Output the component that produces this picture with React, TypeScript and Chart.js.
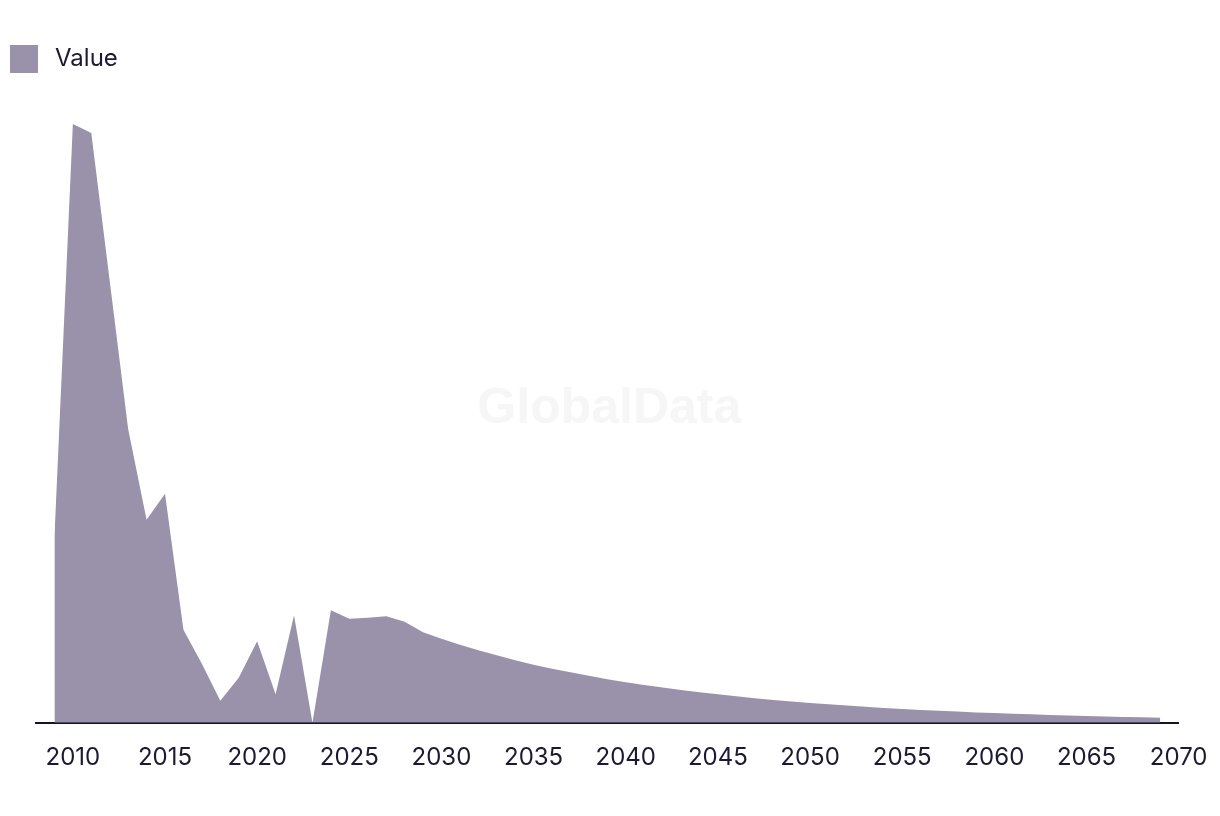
import { useEffect, useRef } from 'react';
import { Chart, registerables } from 'chart.js';

Chart.register(...registerables);

const YEARS = [
  2009, 2010, 2011, 2012, 2013, 2014, 2015, 2016, 2017, 2018,
  2019, 2020, 2021, 2022, 2023, 2024, 2025, 2026, 2027, 2028,
  2029, 2030, 2031, 2032, 2033, 2034, 2035, 2036, 2037, 2038,
  2039, 2040, 2041, 2042, 2043, 2044, 2045, 2046, 2047, 2048,
  2049, 2050, 2051, 2052, 2053, 2054, 2055, 2056, 2057, 2058,
  2059, 2060, 2061, 2062, 2063, 2064, 2065, 2066, 2067, 2068,
  2069,
];

const VALUES = [
  185.5, 598.5, 589.5, 441.5, 293.5, 203, 229, 93, 59, 22,
  45, 81.5, 28.5, 107.5, 0, 112.5, 104, 105, 106.5, 101,
  90.5, 84, 78, 72.5, 67.5, 62.5, 58, 54, 50.5, 47,
  43.5, 40.5, 37.8, 35.2, 32.8, 30.5, 28.4, 26.4, 24.5, 22.8,
  21.2, 19.7, 18.4, 17.1, 15.9, 14.8, 13.8, 12.8, 11.9, 11.1,
  10.3, 9.6, 9, 8.4, 7.8, 7.3, 6.8, 6.3, 5.8, 5.4,
  5,
];

const TICK_YEARS = [2010, 2015, 2020, 2025, 2030, 2035, 2040, 2045, 2050, 2055, 2060, 2065, 2070];

const SERIES_LABEL = 'Value';
const WATERMARK = 'GlobalData';
const Y_MAX = 641.5;

const TEXT_COLOR = '#1c1a33';
const FILL_COLOR = '#9a91aa';

const watermarkPlugin = {
  id: 'watermark',
  beforeDatasetsDraw(chart: any) {
    const { ctx, chartArea } = chart;
    ctx.save();
    ctx.font = 'bold 50px "Liberation Sans", Arial, sans-serif';
    ctx.fillStyle = '#f6f6f6';
    ctx.textAlign = 'center';
    ctx.textBaseline = 'middle';
    ctx.fillText(WATERMARK, (chartArea.left + chartArea.right) / 2 + 2, 409);
    ctx.restore();
  },
};

export default function App() {
  const canvasRef = useRef<HTMLCanvasElement | null>(null);

  useEffect(() => {
    if (!canvasRef.current) return;

    // legend swatch: 28x28 square with a little transparent room on its right
    const swatch = document.createElement('canvas');
    swatch.width = 33;
    swatch.height = 28;
    const sctx = swatch.getContext('2d');
    if (sctx) {
      sctx.fillStyle = FILL_COLOR;
      sctx.fillRect(0, 0, 28, 28);
    }

    const chart = new Chart(canvasRef.current, {
      type: 'line',
      data: {
        datasets: [
          {
            label: SERIES_LABEL,
            data: YEARS.map((y, i) => ({ x: y, y: VALUES[i] })),
            backgroundColor: FILL_COLOR,
            borderColor: FILL_COLOR,
            borderWidth: 0,
            pointRadius: 0,
            pointHoverRadius: 0,
            tension: 0,
            fill: 'origin',
          },
        ],
      },
      options: {
        animation: false,
        responsive: true,
        maintainAspectRatio: false,
        devicePixelRatio: 1,
        layout: { padding: { top: 37, right: 29, bottom: 31.5, left: 0 } },
        plugins: {
          legend: {
            display: true,
            position: 'top',
            align: 'start',
            labels: {
              usePointStyle: true,
              pointStyle: swatch,
              pointStyleWidth: 33,
              boxHeight: 28,
              padding: 10,
              color: TEXT_COLOR,
              font: { family: 'Inter', size: 24 },
            },
          },
          tooltip: { enabled: false },
        },
        scales: {
          x: {
            type: 'linear',
            min: 2008,
            max: 2070,
            grid: { display: false },
            border: { display: true, color: '#15132a', width: 2 },
            afterBuildTicks: (scale: any) => {
              scale.ticks = TICK_YEARS.map((v) => ({ value: v }));
            },
            ticks: {
              autoSkip: false,
              maxRotation: 0,
              padding: 12.5,
              color: TEXT_COLOR,
              font: { family: 'Inter', size: 24 },
              callback: (v: any) => String(v),
            },
          },
          y: {
            min: 0,
            max: Y_MAX,
            grid: { display: false },
            border: { display: false },
            ticks: { display: false },
            afterFit: (scale: any) => {
              scale.width = 36;
            },
          },
        },
      },
      plugins: [watermarkPlugin],
    });
    return () => chart.destroy();
  }, []);

  return (
    <div style={{ position: 'absolute', left: 0, top: 0, width: 1220, height: 816 }}>
      <canvas ref={canvasRef} />
    </div>
  );
}
